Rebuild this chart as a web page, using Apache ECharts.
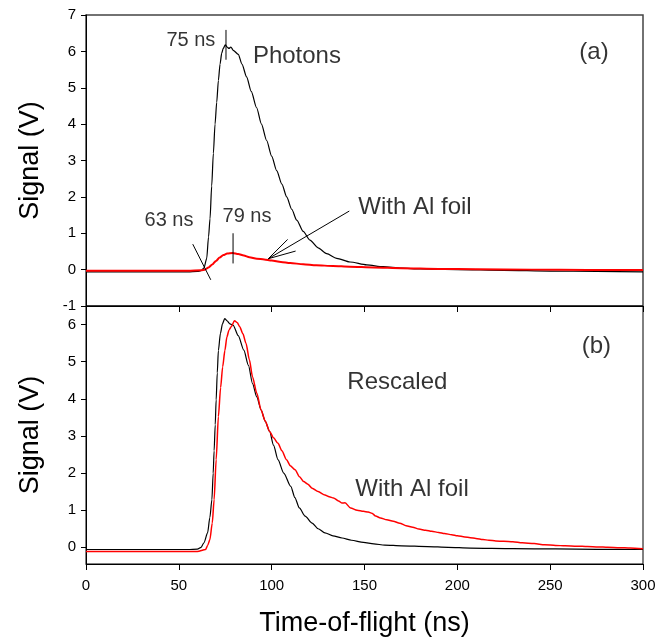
<!DOCTYPE html>
<html>
<head>
<meta charset="utf-8">
<script src="https://cdn.jsdelivr.net/npm/echarts@6/dist/echarts.min.js"></script>
<style>
  html, body { margin: 0; padding: 0; background: #fff; }
  #chart { width: 670px; height: 644px; }
</style>
</head>
<body>
<div id="chart"></div>
<script>
// panel (a): raw signals, [time ns, volts]
const photonsA = [[0,-0.06],[20,-0.06],[40,-0.06],[55,-0.06],[60,-0.05],[62,-0.03],[63.5,0.04],[65,0.3],[66,0.9],[66.8,1.4],[67.7,2.3],[68.6,3.2],[69.5,4.0],[70.4,4.6],[71.3,5.2],[72.2,5.65],[73.1,5.95],[73.9,6.08],[75,6.18],[76,6.12],[77,6.08],[78,6.12],[79.5,6.02],[82,5.92],[84,5.65],[86.5,5.3],[89,4.9],[91.9,4.45],[94.5,4.0],[97.3,3.55],[100,3.12],[102.7,2.72],[105.5,2.35],[108.1,2.0],[110.8,1.66],[113.5,1.36],[117,1.05],[120.6,0.81],[125,0.6],[129.6,0.44],[135,0.31],[142.2,0.21],[151.2,0.13],[160,0.08],[170,0.04],[180,0.02],[200,0.0],[225,-0.02],[250,-0.04],[275,-0.05],[300,-0.06]];
const foilA = [[0,-0.03],[30,-0.03],[55,-0.03],[62,-0.02],[64,0.0],[66,0.06],[68,0.14],[70,0.24],[72,0.33],[74,0.4],[76,0.44],[79,0.46],[82,0.43],[85,0.39],[88,0.34],[92,0.3],[96,0.28],[100,0.25],[105,0.21],[110,0.18],[117,0.15],[124,0.12],[133,0.1],[142,0.08],[155,0.06],[170,0.04],[190,0.02],[210,0.01],[240,0.0],[270,-0.01],[300,-0.01]];

// panel (b): rescaled
const photonsB = [[0,-0.06],[30,-0.06],[55,-0.06],[60,-0.05],[62,0.0],[63.5,0.12],[65.5,0.39],[66.7,0.8],[67.8,1.28],[68.5,2.0],[69,2.6],[69.6,3.3],[70.1,3.97],[70.7,4.7],[71.3,5.3],[72.4,5.76],[73.5,6.02],[74.7,6.16],[76,6.1],[77.5,6.02],[79.3,5.98],[82,5.7],[85,5.31],[87.5,4.9],[89.7,4.41],[92,4.05],[94.3,3.7],[96.5,3.4],[98.9,3.12],[101,2.75],[103.4,2.36],[106.5,2.0],[110.3,1.64],[112.5,1.34],[114.9,1.06],[118,0.84],[121.8,0.65],[125,0.5],[128.7,0.39],[133,0.31],[137.9,0.25],[143,0.19],[149.4,0.13],[155,0.09],[160.9,0.06],[170,0.04],[183.9,0.02],[195,0.0],[206.9,-0.02],[230,-0.035],[252.9,-0.045],[275,-0.055],[300,-0.06]];
const foilB = [[0,-0.11],[30,-0.11],[60,-0.11],[64.4,-0.06],[65.5,0.05],[66.7,0.2],[68,0.65],[69,1.28],[70.1,2.36],[71.3,3.52],[72.5,4.3],[73.6,4.86],[74.8,5.3],[75.9,5.67],[77,5.85],[78.2,5.94],[80,6.1],[81.5,6.05],[82.8,5.94],[84.5,5.75],[86.2,5.49],[88,5.05],[89.7,4.59],[92,4.15],[94.3,3.7],[96.5,3.4],[98.9,3.12],[101,2.95],[103.4,2.8],[105.5,2.6],[108,2.36],[110,2.2],[112.6,2.09],[115,1.9],[117.2,1.77],[119.5,1.7],[121.8,1.59],[125,1.5],[128.7,1.41],[131,1.36],[133.3,1.33],[136,1.25],[137.9,1.19],[139.5,1.2],[142.5,1.06],[146,1.0],[149.4,0.97],[152,0.95],[154,0.92],[156,0.84],[158.6,0.79],[162,0.74],[165.5,0.7],[169,0.65],[172.4,0.58],[176,0.54],[179.3,0.49],[183,0.46],[186.2,0.43],[190,0.4],[193.1,0.37],[197,0.34],[200,0.31],[204,0.28],[206.9,0.26],[210,0.24],[213.8,0.21],[217,0.19],[220.7,0.17],[225,0.16],[229.9,0.15],[235,0.12],[241.4,0.1],[247,0.07],[252.9,0.05],[258,0.04],[264.4,0.03],[270,0.02],[275.9,0.01],[281,0.0],[287.4,-0.01],[293,-0.02],[300,-0.04]];

// tick values
const xTicks = [0, 50, 100, 150, 200, 250, 300];
const yTicksA = [-1, 0, 1, 2, 3, 4, 5, 6, 7];
const yTicksB = [0, 1, 2, 3, 4, 5, 6];

// annotation texts [t, v, text, fontSize]
const textsA = [[56.5,6.31,"75 ns",20],[113.6,5.87,"Photons",24],[273.6,5.98,"(a)",24],[44.7,1.36,"63 ns",20],[86.7,1.47,"79 ns",20],[177.2,1.71,"With Al foil",24]];
const textsB = [[274.9,5.42,"(b)",24],[167.7,4.45,"Rescaled",24],[175.6,1.55,"With Al foil",24]];

// annotation marker lines in panel (a)
const markerLinesA = [
  [[75.4,6.59],[75.4,5.77]],
  [[79.2,1.0],[79.2,0.17]],
  [[57.5,0.70],[67.2,-0.28]],
  [[141.8,1.61],[98.2,0.30]],
  [[108.6,0.83],[98.2,0.30],[112.9,0.51]]
];

const FONT = "Liberation Sans, Arial, sans-serif";
const chart = echarts.init(document.getElementById("chart"), null, { renderer: "canvas" });

function xAxisCfg(gridIndex, showLabels) {
  return {
    type: "value", gridIndex, min: 0, max: 300,
    axisLine: { show: true, onZero: false, lineStyle: { color: "#000", width: 1 } },
    axisTick: { show: true, inside: false, length: 6, lineStyle: { color: "#000" }, customValues: xTicks },
    axisLabel: { show: showLabels, margin: 14, color: "#000", fontSize: 15, fontFamily: FONT, customValues: xTicks },
    splitLine: { show: false },
    name: showLabels ? "Time-of-flight (ns)" : "",
    nameLocation: "middle", nameGap: 46,
    nameTextStyle: { fontSize: 27, fontFamily: FONT, color: "#000" },
  };
}

function yAxisCfg(gridIndex, min, max, ticks) {
  return {
    type: "value", gridIndex, min, max,
    axisLine: { show: true, onZero: false, lineStyle: { color: "#000", width: 1 } },
    axisTick: { show: true, inside: false, length: 5, lineStyle: { color: "#000" }, customValues: ticks },
    axisLabel: { margin: 10, color: "#000", fontSize: 15, fontFamily: FONT, customValues: ticks },
    splitLine: { show: false },
    name: "Signal (V)", nameLocation: "middle", nameGap: 42, nameRotate: 90,
    nameTextStyle: { fontSize: 27, fontFamily: FONT, color: "#000" },
  };
}

function curve(name, data, color, width, idx) {
  return {
    name, type: "line", xAxisIndex: idx, yAxisIndex: idx, data,
    showSymbol: false, symbol: "none", smooth: 0.25, smoothMonotone: "x",
    lineStyle: { color, width }, silent: true,
  };
}

function textSeries(items, idx) {
  return {
    type: "scatter", xAxisIndex: idx, yAxisIndex: idx, symbolSize: 1, silent: true,
    itemStyle: { color: "transparent" },
    data: items.map((d) => ({
      value: [d[0], d[1]], name: d[2],
      label: { fontSize: d[3], color: "#000", textBorderWidth: 0 },
    })),
    label: {
      show: true, position: "inside", color: "#000", fontFamily: FONT,
      textBorderWidth: 0, formatter: (p) => p.name,
    },
  };
}

const option = {
  animation: false,
  backgroundColor: "#fff",
  grid: [
    { left: 86, top: 15, width: 557, height: 291, show: true, borderColor: "#444", borderWidth: 1.5, backgroundColor: "transparent" },
    { left: 86, top: 306, width: 557, height: 258, show: true, borderColor: "#000", borderWidth: 1, backgroundColor: "transparent" },
  ],
  xAxis: [xAxisCfg(0, false), xAxisCfg(1, true)],
  yAxis: [yAxisCfg(0, -1, 7, yTicksA), yAxisCfg(1, -0.45, 6.5, yTicksB)],
  series: [
    curve("Photons", photonsA, "#000", 1.2, 0),
    curve("With Al foil", foilA, "#ff0000", 2, 0),
    curve("Photons", photonsB, "#000", 1.2, 1),
    curve("With Al foil", foilB, "#ff0000", 1.5, 1),
    ...markerLinesA.map((seg) => ({
      type: "line", xAxisIndex: 0, yAxisIndex: 0, data: seg, symbol: "none",
      lineStyle: { color: "#000", width: 1 }, silent: true,
    })),
    textSeries(textsA, 0),
    textSeries(textsB, 1),
  ],
};

chart.setOption(option);
</script>
</body>
</html>
